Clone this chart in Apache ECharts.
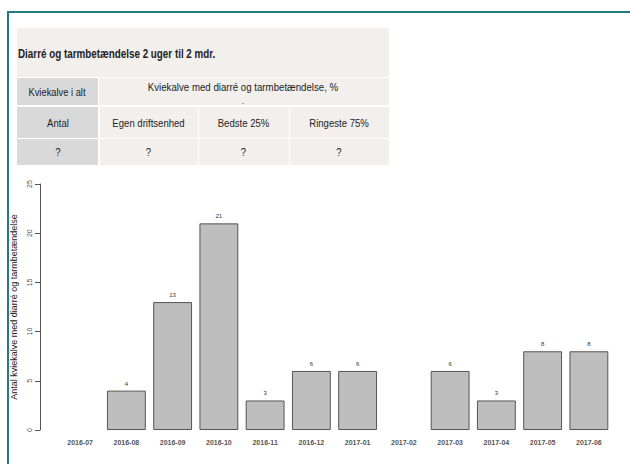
<!DOCTYPE html>
<html><head><meta charset="utf-8">
<script src="https://cdn.jsdelivr.net/npm/echarts@6/dist/echarts.min.js"></script>
<style>html,body{margin:0;padding:0;background:#fff}#c{width:630px;height:464px}</style>
</head><body><div id="c"></div>
<script>
var categories = ['2016-07','2016-08','2016-09','2016-10','2016-11','2016-12','2017-01','2017-02','2017-03','2017-04','2017-05','2017-06'];
var counts = [null,4,13,21,3,6,6,null,6,3,8,8];
var yTicks = [0,5,10,15,20,25];
var tableTitle = 'Diarré og tarmbetændelse 2 uger til 2 mdr.';
var headerLeft = 'Kviekalve i alt';
var headerRight = 'Kviekalve med diarré og tarmbetændelse, %';
var subHeaders = ['Antal','Egen driftsenhed','Bedste 25%','Ringeste 75%'];
var cellValues = ['?','?','?','?'];

var FF = '"Liberation Sans", Arial, sans-serif';
var bgCell = '#f3efed', grayCell = '#d9d9d9';
var colX = [17, 99, 198, 289, 389];
var rowY = [28, 77, 106, 138, 165];
function txt(x, y, s, size, weight, align, sx) {
  return {type:'text', x:x, y:y, scaleX: sx || 0.87, silent:true,
    style:{text:s, font:(weight||'normal')+' '+size+'px '+FF, fill:'#222', align:align||'center', verticalAlign:'middle'}};
}
var g = [];
// frame
g.push({type:'rect', shape:{x:7, y:11, width:623, height:2}, style:{fill:'#237a83'}, silent:true});
g.push({type:'rect', shape:{x:7, y:11, width:2, height:453}, style:{fill:'#237a83'}, silent:true});
// table
g.push({type:'rect', shape:{x:17, y:28, width:372, height:49}, style:{fill:bgCell}, silent:true});
g.push({type:'rect', shape:{x:17, y:78, width:81, height:27}, style:{fill:grayCell}, silent:true});
g.push({type:'rect', shape:{x:99, y:78, width:290, height:27}, style:{fill:bgCell}, silent:true});
for (var r = 0; r < 2; r++) {
  var y0 = rowY[2+r] + 1, h = rowY[3+r] - rowY[2+r] - 1;
  for (var c = 0; c < 4; c++) {
    g.push({type:'rect', shape:{x:colX[c] + (c?1:0), y:y0, width:colX[c+1]-colX[c]-(c?1:0)-(c==0?1:0), height:h}, style:{fill: c==0?grayCell:bgCell}, silent:true});
  }
}
g.push(txt(18, 54, tableTitle, 12, 'bold', 'left', 0.82));
g.push(txt(57, 92, headerLeft, 11, 'normal', 'center', 0.85));
g.push(txt(243, 87, headerRight, 11, 'normal', 'center', 0.88));
g.push(txt(243, 101, '.', 9, 'normal'));
for (var c = 0; c < 4; c++) {
  var cx = (colX[c] + colX[c+1]) / 2;
  g.push(txt(cx, 123, subHeaders[c], 11, 'normal'));
  g.push(txt(cx, 152, cellValues[c], 11, 'normal'));
}

var chart = echarts.init(document.getElementById('c'), null, {renderer:'svg'});
chart.setOption({
  animation:false,
  backgroundColor:'#fff',
  textStyle:{fontFamily:FF},
  grid:{left:57, right:18, top:184, bottom:34},
  graphic:g,
  xAxis:{type:'category', data:categories,
    axisLine:{show:false}, axisTick:{show:false},
    axisLabel:{interval:0, margin:9, fontSize:7, color:'#555', fontWeight:'bold'}},
  yAxis:{type:'value', min:yTicks[0], max:yTicks[yTicks.length-1], interval:5, offset:17,
    splitLine:{show:false},
    axisLine:{show:true, lineStyle:{color:'#555', width:1}},
    axisTick:{show:true, length:5, lineStyle:{color:'#555'}},
    axisLabel:{rotate:90, fontSize:7, color:'#555', margin:7},
    name:'Antal kviekalve med diarré og tarmbetændelse', nameLocation:'middle', nameGap:22,
    nameTextStyle:{fontSize:9, color:'#222'}},
  series:[{type:'bar', data:counts, barCategoryGap:'16%',
    itemStyle:{color:'#bebebe', borderColor:'#555', borderWidth:1},
    label:{show:true, position:'top', distance:4, fontSize:6, color:'#333'}}]
});
</script></body></html>
